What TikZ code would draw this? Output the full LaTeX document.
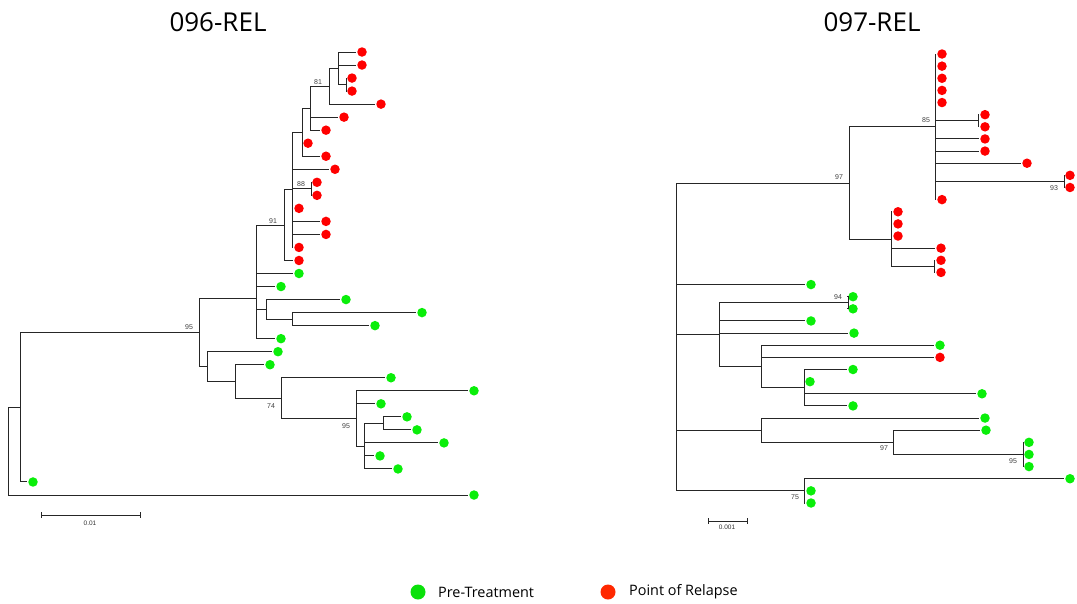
\documentclass[tikz,border=0pt]{standalone}
\usepackage{fontspec}
\newfontfamily\osans{Open Sans}
\newfontfamily\arial{Liberation Sans}
\definecolor{leafred}{RGB}{255,0,0}
\definecolor{leafgreen}{RGB}{10,238,10}
\definecolor{keyred}{RGB}{255,40,0}
\definecolor{keygreen}{RGB}{10,225,10}
\tikzset{
  br/.style={draw=black!85, line width=1pt},
  rl/.style={circle, fill=leafred, inner sep=0pt, minimum size=9.5pt, outer sep=1pt},
  gl/.style={circle, fill=leafgreen, inner sep=0pt, minimum size=9.5pt, outer sep=1pt},
  boot/.style={font=\arial\fontsize{7}{8}\selectfont, text=black!75, inner sep=0pt},
  scalelbl/.style={font=\arial\fontsize{6.5}{7}\selectfont, text=black!80, inner sep=0pt},
  title/.style={font=\osans\fontsize{26}{29}\selectfont, inner sep=0pt},
  keytext/.style={font=\osans\fontsize{14.4}{16}\selectfont, anchor=west, inner sep=0pt},
}
\newcommand\kids[2]{\foreach \c in {#2} \draw[br] (#1) |- (\c);}
\begin{document}
\begin{tikzpicture}[x=1pt, y=-1pt]
\useasboundingbox (0,0) rectangle (1077,603);

% ---------- titles ----------
\node[title] (t096) at (218,22) {096-REL};
\node[title] (t097) at (872,22) {097-REL};

% ---------- tree 096: leaves ----------
\foreach \i/\x/\s in {0/362/rl,1/362/rl,2/352/rl,3/352/rl,4/381/rl,5/344/rl,6/326/rl,
  7/308/rl,8/326/rl,9/335/rl,10/317/rl,11/317/rl,12/299/rl,13/326/rl,14/326/rl,
  15/299/rl,16/299/rl,17/299/gl,18/281/gl,19/346/gl,20/422/gl,21/375/gl,22/281/gl,
  23/278/gl,24/270/gl,25/391/gl,26/474/gl,27/381/gl,28/407/gl,29/417/gl,30/444/gl,
  31/380/gl,32/398/gl,33/33/gl,34/474/gl}
  \node[\s] (l\i) at (\x,{52+13.03*\i}) {};

% ---------- tree 096: internal nodes ----------
\coordinate (lR) at (8,451.1);
\coordinate (lA) at (20,407.2);
\coordinate (lB) at (199,332.4);
\coordinate (lC) at (256,298);
\coordinate (lE) at (284,225.1);
\coordinate (lH) at (292,189.8);
\coordinate (lI) at (302,132.2);
\coordinate (lK) at (310,108.2);
\coordinate (lL) at (329,86.2);
\coordinate (lM) at (338,68.3);
\coordinate (lN) at (346,84.6);
\coordinate (lJ) at (311,188.8);
\coordinate (lF) at (266,309.3);
\coordinate (lG) at (292,319.1);
\coordinate (lD) at (207,366.8);
\coordinate (lP) at (235,381.9);
\coordinate (lQ) at (281,398.4);
\coordinate (lV) at (356,418.6);
\coordinate (lS) at (364,446.2);
\coordinate (lT) at (383,423.4);

\kids{lR}{lA,l34}
\kids{lA}{lB,l33}
\kids{lB}{lC,lD}
\kids{lC}{lE,l17,l18,lF,l22}
\kids{lE}{lH,l16}
\kids{lH}{lI,l9,lJ,l12,l13,l14,l15}
\kids{lI}{lK,l7,l8}
\kids{lK}{lL,l5,l6}
\kids{lL}{lM,l4}
\kids{lM}{l0,l1,lN}
\kids{lN}{l2,l3}
\kids{lJ}{l10,l11}
\kids{lF}{l19,lG}
\kids{lG}{l20,l21}
\kids{lD}{l23,lP}
\kids{lP}{l24,lQ}
\kids{lQ}{l25,lV}
\kids{lV}{l26,l27,lS}
\kids{lS}{lT,l30,l31,l32}
\kids{lT}{l28,l29}

% bootstrap support
\node[boot] (b81) at (318,82) {81};
\node[boot] (b88) at (301,184) {88};
\node[boot] (b91) at (273,221) {91};
\node[boot] (b95a) at (189,327) {95};
\node[boot] (b74) at (271,406) {74};
\node[boot] (b95b) at (346,426) {95};

% scale bar
\coordinate (sl1) at (41,515);
\coordinate (sl2) at (140,515);
\draw[br] (sl1) -- (sl2);
\draw[br] ([yshift=-2.6pt]sl1) -- ([yshift=2.6pt]sl1);
\draw[br] ([yshift=-2.6pt]sl2) -- ([yshift=2.6pt]sl2);
\node[scalelbl] (sl) at (90,523.5) {0.01};

% ---------- tree 097: leaves ----------
\foreach \i/\x/\s in {0/942/rl,1/942/rl,2/942/rl,3/942/rl,4/942/rl,5/985/rl,6/985/rl,
  7/985/rl,8/985/rl,9/1027/rl,10/1070/rl,11/1070/rl,12/942/rl,13/898/rl,14/898/rl,
  15/898/rl,16/941/rl,17/941/rl,18/941/rl,19/811/gl,20/853/gl,21/853/gl,22/811/gl,
  23/854/gl,24/940/gl,25/940/rl,26/853/gl,27/810/gl,28/982/gl,29/853/gl,30/985/gl,
  31/986/gl,32/1029/gl,33/1029/gl,34/1029/gl,35/1070/gl,36/811/gl,37/811/gl}
  \node[\s] (r\i) at (\x,{54+12.135*\i}) {};

% ---------- tree 097: internal nodes ----------
\coordinate (rR) at (676,337);
\coordinate (rU) at (849,183.2);
\coordinate (rY) at (935,126.8);
\coordinate (rYa) at (978,120.7);
\coordinate (rYb) at (1064,181.4);
\coordinate (rZ) at (891,239.1);
\coordinate (rZa) at (934,266.4);
\coordinate (rV) at (719,334.6);
\coordinate (rVa) at (848,302.8);
\coordinate (rAA) at (761,366.5);
\coordinate (rAB) at (804,387.7);
\coordinate (rW) at (761,430.2);
\coordinate (rAC) at (893,442.3);
\coordinate (rAD) at (1023,454.5);
\coordinate (rX) at (804,490.9);

\kids{rR}{rU,r19,rV,rW,rX}
\kids{rU}{rY,rZ}
\kids{rY}{r0,r1,r2,r3,r4,rYa,r7,r8,r9,rYb,r12}
\kids{rYa}{r5,r6}
\kids{rYb}{r10,r11}
\kids{rZ}{r13,r14,r15,r16,rZa}
\kids{rZa}{r17,r18}
\kids{rV}{rVa,r22,r23,rAA}
\kids{rVa}{r20,r21}
\kids{rAA}{r24,r25,rAB}
\kids{rAB}{r26,r27,r28,r29}
\kids{rW}{r30,rAC}
\kids{rAC}{r31,rAD}
\kids{rAD}{r32,r33,r34}
\kids{rX}{r35,r36,r37}

% bootstrap support
\node[boot] (c97a) at (839,177) {97};
\node[boot] (c85) at (926,120.5) {85};
\node[boot] (c93) at (1054,188) {93};
\node[boot] (c94) at (838,297) {94};
\node[boot] (c97b) at (884,448) {97};
\node[boot] (c95) at (1013,461) {95};
\node[boot] (c75) at (795,497) {75};

% scale bar
\coordinate (sr1) at (708,521);
\coordinate (sr2) at (747,521);
\draw[br] (sr1) -- (sr2);
\draw[br] ([yshift=-2.6pt]sr1) -- ([yshift=2.6pt]sr1);
\draw[br] ([yshift=-2.6pt]sr2) -- ([yshift=2.6pt]sr2);
\node[scalelbl] (sr) at (727,527.5) {0.001};

% ---------- key ----------
\node[circle, fill=keygreen, inner sep=0pt, minimum size=15pt] (kg) at (418,592) {};
\node[keytext] (kgt) at (438,592) {Pre-Treatment};
\node[circle, fill=keyred, inner sep=0pt, minimum size=15pt] (kr) at (608,592) {};
\node[keytext] (krt) at (629,592) {Point of Relapse};
\end{tikzpicture}
\end{document}
